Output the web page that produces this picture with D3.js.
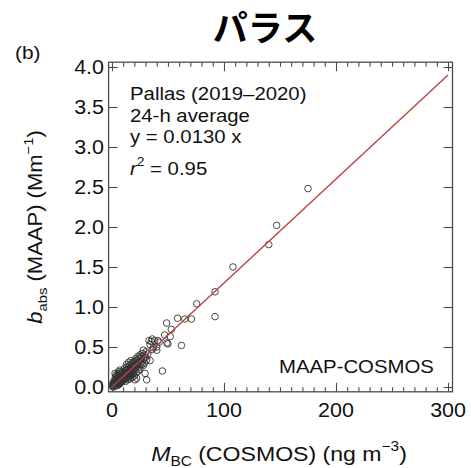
<!DOCTYPE html>
<html>
<head>
<meta charset="utf-8">
<script src="https://cdn.jsdelivr.net/npm/d3@7"></script>
<style>
  body { margin: 0; background: #fff; }
  svg { display: block; }
</style>
</head>
<body>
<div id="chart"></div>
<script>
// MAAP vs COSMOS, Pallas 24-h averages: [M_BC (ng m-3), b_abs (Mm-1)]
const points = [
  [0.5,0.01],[1,0.02],[1.5,0.01],[2,0.03],[2.5,0.02],[3,0.04],[3,0.06],[3.5,0.03],[4,0.05],[4,0.08],
  [4.5,0.06],[5,0.04],[5,0.07],[5.5,0.09],[6,0.06],[6,0.11],[6.5,0.08],[7,0.05],[7,0.1],[7.5,0.13],
  [8,0.08],[8,0.11],[8.5,0.15],[9,0.1],[9,0.07],[9.5,0.13],[10,0.12],[10,0.16],[2,0.08],[1,0.05],
  [3,0.12],[5,0.14],[6.5,0.17],[8,0.19],[2.7,0.17],[7,0.21],[4,0.1],[1.5,0.04],[0.8,0.03],[2.2,0.05],
  [3.8,0.02],[5.5,0.03],[6.8,0.04],[8.5,0.06],[10,0.08],
  [1.2,0.0],[2.4,0.01],[3.3,0.09],[4.2,0.13],[5.2,0.11],[6.2,0.14],[7.2,0.07],[7.8,0.16],[8.8,0.12],[9.3,0.18],
  [9.8,0.1],[4.8,0.02],[6.0,0.03],[3.6,0.15],[5.8,0.19],
  [10.5,0.14],[11,0.1],[11,0.18],[11.5,0.15],[12,0.12],[12,0.2],[12.5,0.17],[13,0.25],[13,0.14],[13.5,0.19],
  [14,0.16],[14,0.22],[14.5,0.12],[15,0.2],[15,0.26],[15.5,0.17],[16,0.23],[16,0.14],[16.5,0.28],[17,0.2],
  [17,0.25],[17.5,0.18],[18,0.3],[18,0.22],[18.5,0.16],[19,0.27],[19,0.3],[19.5,0.21],[20,0.25],[20,0.32],
  [12,0.07],[14,0.09],[16,0.1],[18,0.12],[19,0.17],[20,0.14],[11,0.23],[13,0.28],[15,0.31],[17,0.33],
  [10.8,0.13],[11.8,0.16],[12.8,0.21],[13.8,0.13],[14.8,0.18],[15.8,0.22],[16.8,0.16],[17.8,0.26],[18.8,0.2],[12.2,0.1],
  [20.5,0.28],[21,0.35],[21,0.22],[21.5,0.3],[22,0.11],[22,0.26],[22.5,0.33],[23,0.38],[23,0.28],[23.5,0.2],
  [24,0.31],[24,0.36],[24.5,0.25],[25,0.4],[25,0.33],[25.5,0.29],[26,0.36],[26.5,0.38],[27,0.32],[27,0.42],
  [28,0.46],[28,0.35],[28,0.27],[29,0.4],[29.5,0.17],[29,0.3],[30,0.37],[30.5,0.44],[31,0.09],[31,0.34],
  [32,0.41],[20.5,0.09],[37,0.49],[40,0.46],[21.8,0.18],[24.8,0.22],[26.8,0.28],
  [33,0.58],[34,0.53],[35,0.57],[36,0.47],[36,0.6],[38,0.58],[40,0.5],[41,0.58],[42,0.56],[34,0.33],
  [45,0.2],[47,0.65],[49,0.55],[50,0.54],[52,0.63],[53,0.72],[48.8,0.8],[62,0.52],[58.6,0.86],[65,0.85],
  [71,0.85],[75.6,1.04],[92,0.88],[92,1.19],[108,1.5],[140,1.78],[147,2.02],[175,2.48]
];
const slope = 0.0130;
const fitRange = [0, 300];

const xTicks = [0, 100, 200, 300];
const yTicks = [0, 0.5, 1.0, 1.5, 2.0, 2.5, 3.0, 3.5, 4.0];
const infoLines = ["Pallas (2019\u20132020)", "24-h average", "y = 0.0130 x"];

const width = 471, height = 468;
const font = "'Liberation Sans', Arial, Helvetica, sans-serif";
const sx = 1.1;      // text in the figure is a little stretched sideways
const frameColor = "#4a4a4a";

const x = d3.scaleLinear().domain([-3, 304]).range([108.6, 452.5]);
const y = d3.scaleLinear().domain([-0.06, 4.06]).range([391.8, 62.2]);
const [x0, x1] = x.range();
const [y0, y1] = y.range();

const svg = d3.select("#chart").append("svg")
    .attr("width", width)
    .attr("height", height)
    .style("font-family", font);

function label(px, py, size, anchor) {
  return svg.append("text")
      .attr("transform", `translate(${px},${py}) scale(${sx},1)`)
      .attr("text-anchor", anchor || "start")
      .attr("font-size", size)
      .attr("fill", "#111");
}

// title
svg.append("text")
    .attr("x", 265).attr("y", 41)
    .attr("text-anchor", "middle")
    .attr("font-family", "'Noto Sans CJK JP', 'Noto Sans CJK SC', sans-serif")
    .attr("font-weight", "bold")
    .attr("font-size", 35)
    .attr("fill", "#000")
    .text("パラス");

label(15, 59, 19).text("(b)");

// points
svg.append("g")
  .selectAll("circle")
  .data(points)
  .join("circle")
    .attr("cx", d => x(d[0]))
    .attr("cy", d => y(d[1]))
    .attr("r", 3.3)
    .attr("fill", "none")
    .attr("stroke", "#333")
    .attr("stroke-width", 0.9);

// fit line
svg.append("line")
    .attr("x1", x(fitRange[0])).attr("y1", y(slope * fitRange[0]))
    .attr("x2", x(fitRange[1])).attr("y2", y(slope * fitRange[1]))
    .attr("stroke", "#c0403c")
    .attr("stroke-width", 1.4);

// axes (inward ticks on all four sides)
const xMinor = d3.range(0, 301, 10).filter(v => !xTicks.includes(v));

svg.append("g").attr("transform", `translate(0,${y0})`)
    .call(d3.axisTop(x).tickValues(xTicks).tickSize(9).tickFormat(""));
svg.append("g").attr("transform", `translate(0,${y0})`)
    .call(d3.axisTop(x).tickValues(xMinor).tickSize(4.5).tickFormat(""));
svg.append("g").attr("transform", `translate(0,${y1})`)
    .call(d3.axisBottom(x).tickValues(xTicks).tickSize(9).tickFormat(""));
svg.append("g").attr("transform", `translate(0,${y1})`)
    .call(d3.axisBottom(x).tickValues(xMinor).tickSize(4.5).tickFormat(""));
svg.append("g").attr("transform", `translate(${x0},0)`)
    .call(d3.axisRight(y).tickValues(yTicks).tickSize(9).tickFormat(""));
svg.append("g").attr("transform", `translate(${x1},0)`)
    .call(d3.axisLeft(y).tickValues(yTicks).tickSize(9).tickFormat(""));

svg.selectAll(".domain").remove();
svg.selectAll(".tick line").attr("stroke", frameColor).attr("stroke-width", 1.1);

svg.append("rect")
    .attr("x", x0).attr("y", y1)
    .attr("width", x1 - x0).attr("height", y0 - y1)
    .attr("fill", "none")
    .attr("stroke", frameColor)
    .attr("stroke-width", 1.3);

// tick labels
yTicks.forEach(v => {
  label(104, y(v), 19.5, "end").attr("dy", "0.36em").text(d3.format(".1f")(v));
});
xTicks.forEach(v => {
  label(x(v), 417, 19.5, "middle").text(v);
});

// axis titles
const yTitle = svg.append("text")
    .attr("transform", `translate(42,${(y0 + y1) / 2}) rotate(-90) scale(${sx},1)`)
    .attr("text-anchor", "middle")
    .attr("font-size", 20)
    .attr("fill", "#111");
yTitle.append("tspan").attr("font-style", "italic").text("b");
yTitle.append("tspan").attr("font-size", 13.5).attr("dy", 5).text("abs");
yTitle.append("tspan").attr("dy", -5).text(" (MAAP) (Mm");
yTitle.append("tspan").attr("font-size", 13.5).attr("dy", -9).text("\u22121");
yTitle.append("tspan").attr("dy", 9).text(")");

const xTitle = label(279, 461, 21, "middle");
xTitle.append("tspan").attr("font-style", "italic").text("M");
xTitle.append("tspan").attr("font-size", 14).attr("dy", 5).text("BC");
xTitle.append("tspan").attr("dy", -5).text(" (COSMOS) (ng m");
xTitle.append("tspan").attr("font-size", 14).attr("dy", -10).text("\u22123");
xTitle.append("tspan").attr("dy", 10).text(")");

// annotation
infoLines.forEach((t, i) => {
  label(130, 100 + i * 21.5, 18.5).text(t);
});
const r2 = label(130, 175, 18.5);
r2.append("tspan").attr("font-style", "italic").text("r");
r2.append("tspan").attr("font-size", 12.5).attr("dy", -9).text("2");
r2.append("tspan").attr("dy", 9).text(" = 0.95");

label(279, 373, 18.5).text("MAAP-COSMOS");
</script>
</body>
</html>
